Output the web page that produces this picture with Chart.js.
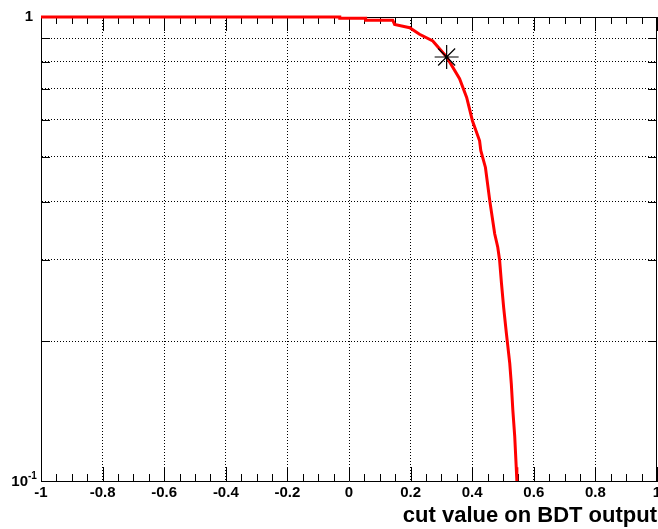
<!DOCTYPE html>
<html>
<head>
<meta charset="utf-8">
<script src="https://cdn.jsdelivr.net/npm/chart.js@4.4.1/dist/chart.umd.min.js"></script>
<style>
  html, body { margin: 0; padding: 0; background: #fff; }
  #effChart { display: block; }
</style>
</head>
<body>
<canvas id="effChart" width="658" height="529"></canvas>
<script>
// signal efficiency vs. cut on the BDT output
const cutValues = [-1, -0.03, -0.03, 0.054, 0.054, 0.142, 0.148, 0.197, 0.229, 0.272, 0.317,
  0.359, 0.382, 0.401, 0.424, 0.428, 0.443, 0.457, 0.473, 0.483, 0.489, 0.495, 0.502,
  0.511, 0.522, 0.527, 0.532, 0.538, 0.543, 0.545, 0.552];
const effValues = [1, 1, 0.994, 0.994, 0.984, 0.984, 0.964, 0.948, 0.918, 0.888, 0.82,
  0.736, 0.671, 0.597, 0.541, 0.515, 0.474, 0.402, 0.341, 0.319, 0.299, 0.267, 0.237,
  0.208, 0.179, 0.162, 0.142, 0.125, 0.107, 0.1, 0.08];

// optimal cut marker
const bestCut = [0.317];
const bestEff = [0.82];

const xTickStep = 0.2;
const xMinorStep = 0.05;
const yTickValues = [0.1, 0.2, 0.3, 0.4, 0.5, 0.6, 0.7, 0.8, 0.9, 1];

const fontFamily = '"Liberation Sans", Arial, Helvetica, sans-serif';

// ROOT style frame: top/right lines and inward tick marks on all sides
const rootFrame = {
  id: 'rootFrame',
  beforeDatasetsDraw(chart) {
    const { ctx, chartArea: a, scales: { x, y } } = chart;
    ctx.save();
    ctx.strokeStyle = '#000';
    ctx.lineWidth = 1;
    ctx.beginPath();
    ctx.moveTo(a.left, a.top + 0.5);
    ctx.lineTo(a.right, a.top + 0.5);
    ctx.moveTo(a.right - 0.5, a.top);
    ctx.lineTo(a.right - 0.5, a.bottom);

    const nMinor = Math.round((x.max - x.min) / xMinorStep);
    const perMajor = Math.round(xTickStep / xMinorStep);
    for (let i = 0; i <= nMinor; i++) {
      const px = Math.round(x.getPixelForValue(x.min + i * xMinorStep)) + 0.5;
      const len = i % perMajor === 0 ? 14 : 7;
      ctx.moveTo(px, a.bottom);
      ctx.lineTo(px, a.bottom - len);
      ctx.moveTo(px, a.top);
      ctx.lineTo(px, a.top + len);
    }
    y.ticks.forEach(t => {
      const py = Math.round(y.getPixelForValue(t.value)) + 0.5;
      ctx.moveTo(a.left, py);
      ctx.lineTo(a.left + 9, py);
      ctx.moveTo(a.right, py);
      ctx.lineTo(a.right - 9, py);
    });
    ctx.stroke();
    ctx.restore();
  },
  // "10^-1" label for the bottom of the log axis, with a real superscript
  afterDraw(chart) {
    const { ctx, scales: { y } } = chart;
    const py = y.getPixelForValue(y.min);
    ctx.save();
    ctx.fillStyle = '#000';
    ctx.textBaseline = 'middle';
    ctx.textAlign = 'right';
    ctx.font = 'bold 15px ' + fontFamily;
    ctx.fillText('10', 28, py + 1);
    ctx.textAlign = 'left';
    ctx.font = 'bold 10px ' + fontFamily;
    ctx.fillText('-1', 28, py - 5);
    ctx.restore();
  }
};

const curve = cutValues.map((c, i) => ({ x: c, y: effValues[i] }));
const marker = bestCut.map((c, i) => ({ x: c, y: bestEff[i] }));

const isEdge = v => Math.abs(v - 1) < 1e-9 || Math.abs(v + 1) < 1e-9 || Math.abs(v - 0.1) < 1e-9;

new Chart(document.getElementById('effChart').getContext('2d'), {
  type: 'scatter',
  data: {
    datasets: [{
      data: marker,
      pointStyle: 'star',
      pointRadius: 12,
      borderColor: '#000',
      backgroundColor: '#000',
      borderWidth: 1.2,
      order: 0
    }, {
      data: curve,
      showLine: true,
      borderColor: '#ff0000',
      borderWidth: 3,
      pointRadius: 0,
      tension: 0,
      clip: { left: 0, right: 0, top: 3, bottom: 0 },
      order: 1
    }]
  },
  options: {
    responsive: false,
    animation: false,
    layout: { autoPadding: false, padding: { top: 16, right: 1, left: 0, bottom: 0 } },
    plugins: { legend: { display: false }, tooltip: { enabled: false } },
    scales: {
      x: {
        type: 'linear',
        min: -1,
        max: 1,
        afterFit(scale) {
          scale.height = 48;
          scale.paddingLeft = 0;
          scale.paddingRight = 0;
        },
        ticks: {
          stepSize: xTickStep,
          padding: 3,
          maxRotation: 0,
          color: '#000',
          font: { family: fontFamily, size: 15, weight: 'bold' },
          callback: v => Math.abs(v) < 1e-9 ? '0' : String(Math.round(v * 10) / 10)
        },
        grid: {
          drawTicks: false,
          color: ctx => (ctx.tick && isEdge(ctx.tick.value)) ? 'rgba(0,0,0,0)' : '#000',
          lineWidth: 1
        },
        border: { display: true, color: '#000', width: 1, dash: [1, 2] },
        title: {
          display: true,
          text: 'cut value on BDT output',
          align: 'end',
          color: '#000',
          padding: { top: 0, bottom: 0 },
          font: { family: fontFamily, size: 22, weight: 'bold' }
        }
      },
      y: {
        type: 'logarithmic',
        min: 0.1,
        max: 1,
        afterBuildTicks(scale) {
          scale.ticks = yTickValues.map(v => ({ value: v }));
        },
        afterFit(scale) {
          scale.width = 41;
        },
        ticks: {
          padding: 8,
          color: '#000',
          font: { family: fontFamily, size: 15, weight: 'bold' },
          callback: v => Math.abs(v - 1) < 1e-9 ? '1' : ''
        },
        grid: {
          drawTicks: false,
          color: ctx => (ctx.tick && isEdge(ctx.tick.value)) ? 'rgba(0,0,0,0)' : '#000',
          lineWidth: 1
        },
        border: { display: true, color: '#000', width: 1, dash: [1, 2] }
      }
    }
  },
  plugins: [rootFrame]
});
</script>
</body>
</html>
